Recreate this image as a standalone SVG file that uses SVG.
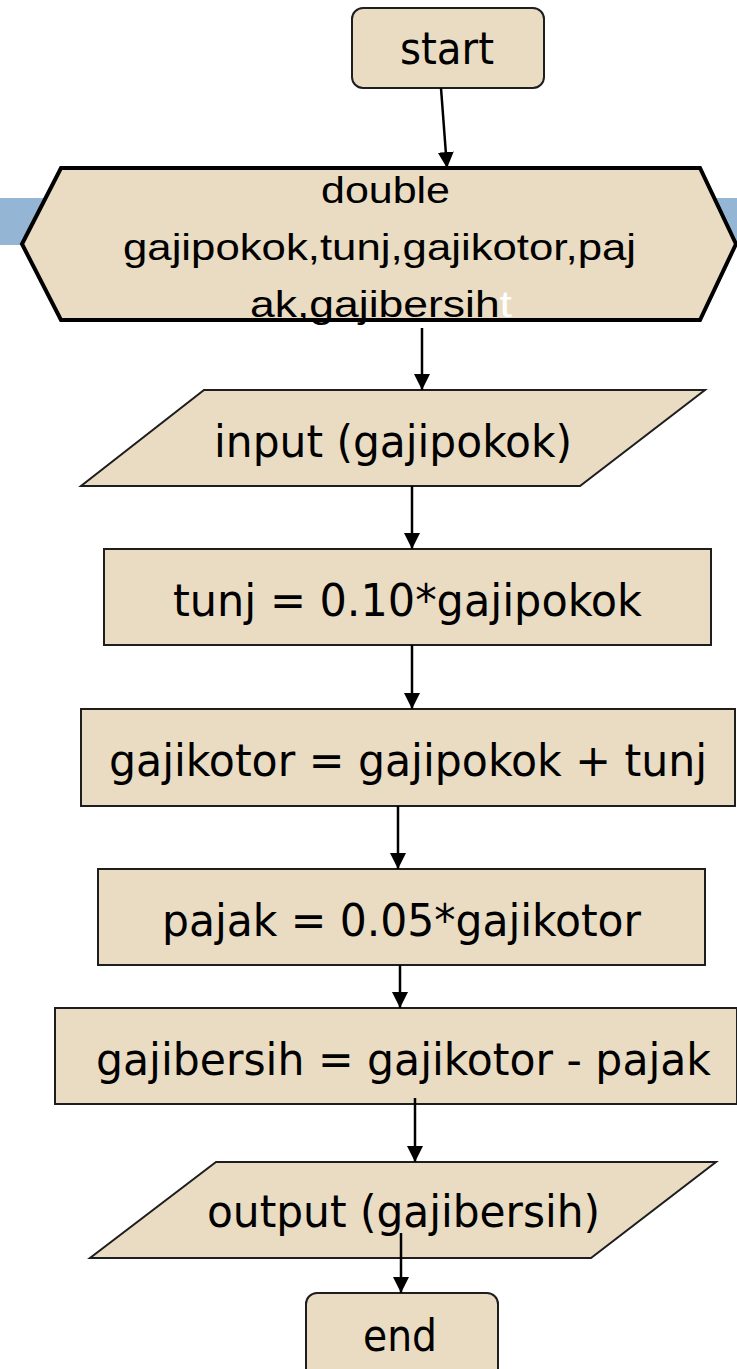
<svg xmlns="http://www.w3.org/2000/svg" width="737" height="1369" viewBox="0 0 737 1369">
  <style>
    .box { fill: #e9dcc2; stroke: #1e1e1e; stroke-width: 2; }
    .hex { fill: #e9dcc2; stroke: #000; stroke-width: 4; stroke-linejoin: miter; }
    .lbl { font-family: "DejaVu Sans Condensed", "DejaVu Sans", Verdana, sans-serif; font-size: 45px; fill: #000; }
    .decl { font-family: "Liberation Sans", Arial, sans-serif; font-size: 36px; fill: #000; }
    .wire { stroke: #000; stroke-width: 2.5; fill: none; marker-end: url(#arrow); }
  </style>
  <defs>
    <marker id="arrow" markerUnits="userSpaceOnUse" markerWidth="17" markerHeight="17" refX="16" refY="8" orient="auto">
      <path d="M0,0 L16,8 L0,16 z" fill="#000"/>
    </marker>
  </defs>
  <rect width="737" height="1369" fill="#fff"/>

  <!-- slide band behind the declaration -->
  <rect x="0" y="198" width="737" height="47" fill="#94b6d4"/>

  <g id="start">
    <rect class="box" x="352" y="8" width="192" height="80" rx="11"/>
    <text class="lbl" x="400" y="64" textLength="94" lengthAdjust="spacingAndGlyphs">start</text>
  </g>

  <g id="declare">
    <polygon class="hex" points="22,244 61,168 700,168 736,244 700,320 61,320"/>
    <text class="decl" x="321" y="203" textLength="129" lengthAdjust="spacingAndGlyphs">double</text>
    <text class="decl" x="123" y="260" textLength="513" lengthAdjust="spacingAndGlyphs">gajipokok,tunj,gajikotor,paj</text>
    <text class="decl" x="250" y="317" textLength="262" lengthAdjust="spacingAndGlyphs">ak,gajibersih<tspan fill="#fff">t</tspan></text>
  </g>

  <g id="input">
    <polygon class="box" points="204,390 705,390 580,486 81,486"/>
    <text class="lbl" x="214" y="457" textLength="358" lengthAdjust="spacingAndGlyphs">input (gajipokok)</text>
  </g>

  <g id="tunj">
    <rect class="box" x="104" y="549" width="607" height="96"/>
    <text class="lbl" x="173" y="616" textLength="469" lengthAdjust="spacingAndGlyphs">tunj = 0.10*gajipokok</text>
  </g>

  <g id="gajikotor">
    <rect class="box" x="81" y="709" width="654" height="97"/>
    <text class="lbl" x="109" y="776" textLength="598" lengthAdjust="spacingAndGlyphs">gajikotor = gajipokok + tunj</text>
  </g>

  <g id="pajak">
    <rect class="box" x="98" y="869" width="607" height="96"/>
    <text class="lbl" x="162" y="936" textLength="479" lengthAdjust="spacingAndGlyphs">pajak = 0.05*gajikotor</text>
  </g>

  <g id="gajibersih">
    <rect class="box" x="55" y="1008" width="682" height="96"/>
    <text class="lbl" x="96" y="1075" textLength="615" lengthAdjust="spacingAndGlyphs">gajibersih = gajikotor - pajak</text>
  </g>

  <g id="output">
    <polygon class="box" points="216,1162 716,1162 591,1258 90,1258"/>
    <text class="lbl" x="207" y="1227" textLength="393" lengthAdjust="spacingAndGlyphs">output (gajibersih)</text>
  </g>

  <g id="end">
    <rect class="box" x="306" y="1293" width="192" height="90" rx="11"/>
    <text class="lbl" x="363" y="1351" textLength="74" lengthAdjust="spacingAndGlyphs">end</text>
  </g>

  <g id="connectors">
    <line class="wire" x1="441" y1="88" x2="447" y2="168"/>
    <line class="wire" x1="422" y1="328" x2="422" y2="390"/>
    <line class="wire" x1="412" y1="486" x2="412" y2="549"/>
    <line class="wire" x1="412" y1="645" x2="412" y2="709"/>
    <line class="wire" x1="398" y1="806" x2="398" y2="869"/>
    <line class="wire" x1="400" y1="965" x2="400" y2="1008"/>
    <line class="wire" x1="415" y1="1098" x2="415" y2="1162"/>
    <line class="wire" x1="401" y1="1233" x2="401" y2="1293"/>
  </g>
</svg>
